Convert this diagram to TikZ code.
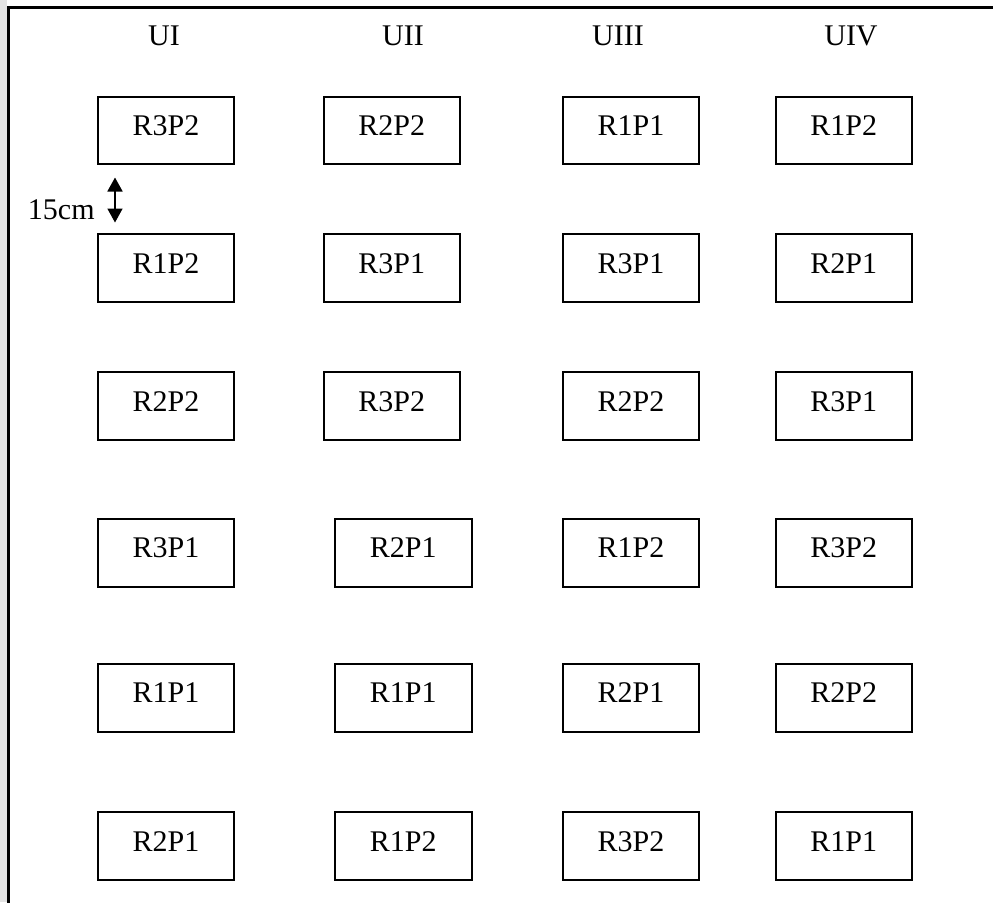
\documentclass[tikz,border=0pt]{standalone}
\usepackage{fontspec}
\setmainfont{Liberation Serif}
\usetikzlibrary{arrows.meta}
\begin{document}
\begin{tikzpicture}[x=0.5pt,y=-0.5pt,
  plot/.style={draw=black,line width=1pt,minimum width=68.3pt,minimum height=33.8pt,
    inner sep=0pt,text height=10pt,text depth=5pt,font=\fontsize{15}{18}\selectfont},
  head/.style={anchor=base,inner sep=0pt,font=\fontsize{15}{18}\selectfont},
  frameline/.style={line width=1.2pt,line cap=rect},
  gaptip/.style={line width=0.9pt,{Triangle[width=7.5pt,length=7pt]}-{Triangle[width=7.5pt,length=7pt]}}]
\useasboundingbox (0,0) rectangle (993,902);
\fill[gray!22] (0,0) rectangle (7,902);
\draw[frameline] (8.5,902) -- (8.5,7.5) -- (993,7.5);
% column headings
\node[head] (h1) at (164,45.7) {UI};
\node[head] (h2) at (403,45.7) {UII};
\node[head] (h3) at (618,45.7) {UIII};
\node[head] (h4) at (851,45.7) {UIV};
% row 1
\node[plot] (a1) at (166,130.5) {R3P2};
\node[plot] (a2) at (391.8,130.5) {R2P2};
\node[plot] (a3) at (631,130.5) {R1P1};
\node[plot] (a4) at (843.8,130.5) {R1P2};
% row 2
\node[plot] (b1) at (166,268) {R1P2};
\node[plot] (b2) at (391.8,268) {R3P1};
\node[plot] (b3) at (631,268) {R3P1};
\node[plot] (b4) at (843.8,268) {R2P1};
% row 3
\node[plot] (c1) at (166,406.2) {R2P2};
\node[plot] (c2) at (391.8,406.2) {R3P2};
\node[plot] (c3) at (631,406.2) {R2P2};
\node[plot] (c4) at (843.8,406.2) {R3P1};
% row 4
\node[plot] (d1) at (166,552.8) {R3P1};
\node[plot] (d2) at (403.3,552.8) {R2P1};
\node[plot] (d3) at (631,552.8) {R1P2};
\node[plot] (d4) at (843.8,552.8) {R3P2};
% row 5
\node[plot] (e1) at (166,697.7) {R1P1};
\node[plot] (e2) at (403.3,697.7) {R1P1};
\node[plot] (e3) at (631,697.7) {R2P1};
\node[plot] (e4) at (843.8,697.7) {R2P2};
% row 6
\node[plot] (f1) at (166,846.2) {R2P1};
\node[plot] (f2) at (403.3,846.2) {R1P2};
\node[plot] (f3) at (631,846.2) {R3P2};
\node[plot] (f4) at (843.8,846.2) {R1P1};
% spacing marker
\coordinate (gtop) at (115,177.5);
\coordinate (gbot) at (115,222.5);
\draw[gaptip] (gtop) -- (gbot);
\node[head] (gap) at (61.3,219) {15cm};
\end{tikzpicture}
\end{document}
